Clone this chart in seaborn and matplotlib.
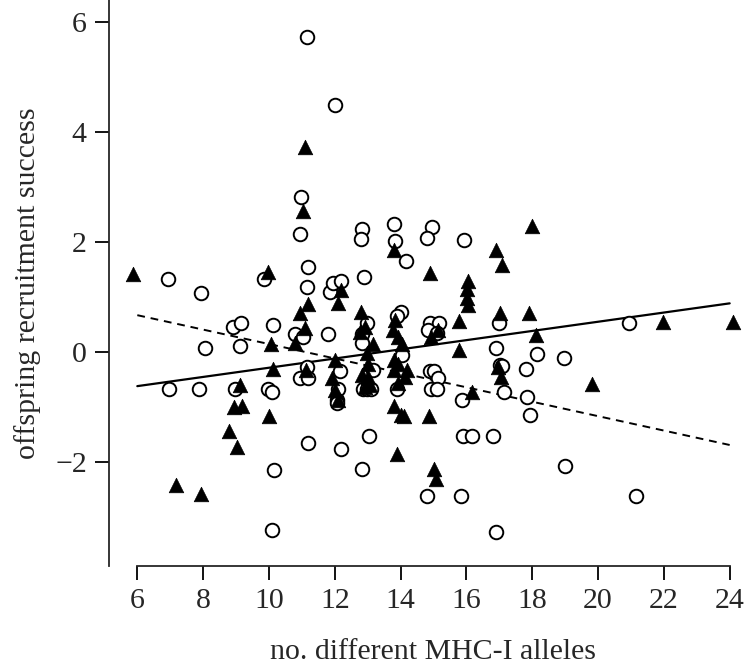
import numpy as np
import pandas as pd
import seaborn as sns
import matplotlib
matplotlib.use("Agg")
import matplotlib.pyplot as plt

# open circles
circ_x = [11.17, 12.01, 10.97, 10.93, 6.94, 7.94, 9.85, 11.18, 11.15, 11.86, 11.96, 12.19,
          12.82, 12.79, 13.81, 13.83, 14.15, 14.94, 14.81, 15.93, 12.89, 17.0, 14.02, 13.88,
          14.88, 15.18, 14.83, 15.12, 16.9, 17.02, 12.97, 12.82, 12.84, 18.14, 17.09, 17.14,
          17.81, 17.84, 17.92, 15.86, 15.91, 16.18, 16.82, 13.05, 12.18, 12.84, 14.8, 15.84,
          16.89, 14.9, 15.02, 15.15, 14.93, 15.1, 13.88, 14.03, 13.15, 12.87, 12.99, 13.1,
          12.16, 12.11, 12.08, 12.06, 8.92, 9.14, 10.13, 8.06, 9.12, 10.79, 11.05, 11.78,
          11.17, 10.95, 11.18, 6.96, 7.87, 8.97, 9.96, 10.1, 11.18, 10.16, 10.1, 20.95,
          18.98, 19.0, 21.15]
circ_y = [5.72, 4.49, 2.82, 2.15, 1.32, 1.07, 1.32, 1.54, 1.19, 1.10, 1.25, 1.29,
          2.24, 2.05, 2.33, 2.02, 1.65, 2.28, 2.07, 2.04, 1.36, 0.53, 0.73, 0.65,
          0.53, 0.53, 0.40, 0.34, 0.07, -0.24, 0.53, 0.32, 0.16, -0.04, -0.25, -0.72,
          -0.31, -0.81, -1.15, -0.88, -1.52, -1.52, -1.52, -1.52, -1.77, -2.12, -2.62, -2.62,
          -3.28, -0.35, -0.35, -0.48, -0.68, -0.68, -0.68, -0.05, -0.32, -0.68, -0.68, -0.68,
          -0.35, -0.68, -0.87, -0.93, 0.45, 0.53, 0.49, 0.07, 0.11, 0.33, 0.28, 0.33,
          -0.27, -0.48, -0.48, -0.68, -0.68, -0.68, -0.68, -0.72, -1.65, -2.15, -3.24, 0.53,
          -0.10, -2.07, -2.61]

# filled triangles
tri_x = [11.11, 11.05, 5.88, 9.98, 12.09, 12.19, 11.18, 10.95, 13.81, 14.9, 16.89, 17.08,
         18.0, 16.04, 16.02, 16.02, 16.06, 12.8, 17.02, 17.9, 15.78, 13.83, 13.78, 13.93,
         14.04, 15.15, 14.92, 15.78, 16.95, 17.04, 12.92, 12.76, 13.17, 12.97, 13.02, 12.82,
         13.02, 12.92, 13.07, 18.13, 16.18, 14.85, 14.02, 14.11, 13.8, 13.88, 15.03, 15.07,
         13.79, 13.93, 13.79, 14.19, 13.93, 14.13, 12.01, 11.91, 12.01, 12.11, 10.05, 10.79,
         11.1, 10.11, 11.12, 9.12, 8.95, 9.17, 10.0, 8.8, 9.04, 7.17, 7.93, 21.96,
         24.09, 19.81]
tri_y = [3.72, 2.57, 1.42, 1.46, 0.90, 1.13, 0.87, 0.71, 1.85, 1.44, 1.85, 1.58,
         2.30, 1.30, 1.14, 0.99, 0.85, 0.73, 0.71, 0.71, 0.56, 0.58, 0.40, 0.28,
         0.14, 0.40, 0.28, 0.04, -0.28, -0.45, 0.46, 0.37, 0.14, -0.02, -0.21, -0.42,
         -0.45, -0.63, -0.60, 0.31, -0.72, -1.16, -1.15, -1.16, -0.99, -1.85, -2.13, -2.30,
         -0.15, -0.21, -0.33, -0.33, -0.57, -0.45, -0.15, -0.48, -0.69, -0.87, 0.14, 0.16,
         0.43, -0.30, -0.33, -0.60, -1.0, -0.98, -1.16, -1.44, -1.72, -2.42, -2.58, 0.55,
         0.55, -0.59]

# fitted lines (end points)
fit_x = [6, 24]
solid_y = [-0.62, 0.885]
dashed_y = [0.67, -1.69]

circles = pd.DataFrame({"alleles": circ_x, "success": circ_y})
triangles = pd.DataFrame({"alleles": tri_x, "success": tri_y})

sns.set_style("ticks")
plt.rcParams["font.family"] = ["Liberation Serif", "DejaVu Serif"]

fig = plt.figure(figsize=(7.56, 6.70), dpi=100)
ax = fig.add_axes([109 / 756, 104 / 670, 647 / 756, 566 / 670])

sns.scatterplot(x="alleles", y="success", data=circles, ax=ax, marker="o", s=95,
                facecolor="white", edgecolor="black", linewidth=1.4, zorder=3)
sns.scatterplot(x="alleles", y="success", data=triangles, ax=ax, marker="^", s=110,
                color="black", edgecolor="black", linewidth=0.5, zorder=3)
sns.lineplot(x=fit_x, y=solid_y, ax=ax, color="black", linewidth=1.6, zorder=2)
sns.lineplot(x=fit_x, y=dashed_y, ax=ax, color="black", linewidth=1.4,
             linestyle=(0, (4, 3)), zorder=2)

ax.set_xlim(5.14, 24.8)
ax.set_ylim(-3.89, 6.40)
ax.set_xticks(range(6, 25, 2))
ax.set_yticks([-2, 0, 2, 4, 6])
ax.spines["top"].set_visible(False)
ax.spines["right"].set_visible(False)
ax.spines["bottom"].set_bounds(6, 24)
for sp in ("left", "bottom"):
    ax.spines[sp].set_linewidth(1.3)
ax.tick_params(axis="both", length=10, width=1.3, pad=6, labelsize=21.5, color="black")

ax.set_xlabel("no. different MHC-I alleles", fontsize=21.5, labelpad=18)
ax.set_ylabel("offspring recruitment success", fontsize=21.5, labelpad=10)

fig.savefig("out.png", dpi=100)
